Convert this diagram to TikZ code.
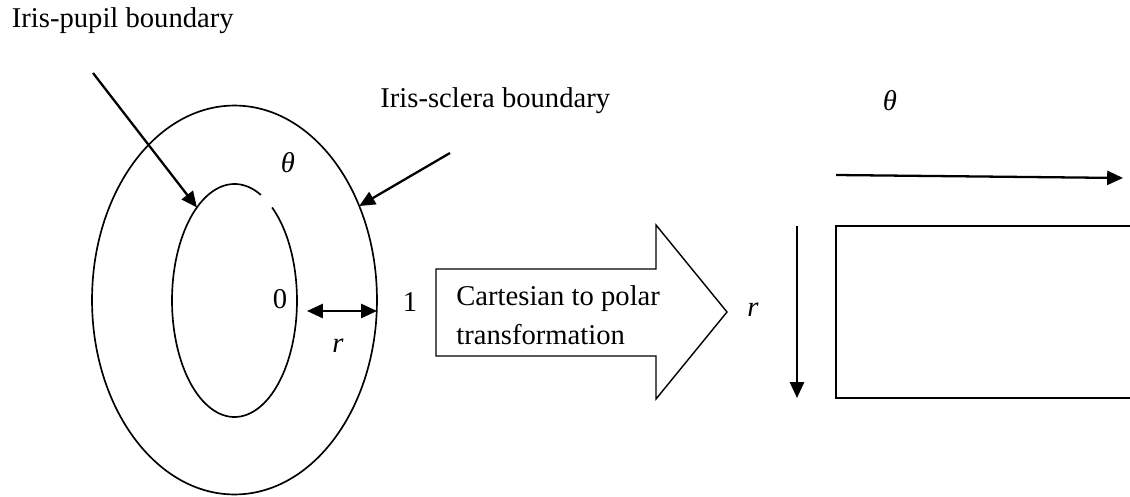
\documentclass[tikz,border=0pt]{standalone}
\usepackage{fontspec}
\setmainfont{Liberation Serif}
\usetikzlibrary{positioning, arrows.meta, shapes.geometric}

\begin{document}
\begin{tikzpicture}[
    x=0.02cm, y=-0.02cm,
    >={Triangle[length=9pt, width=8pt]},
    txt/.style={font=\fontsize{16.3}{22}\selectfont, inner sep=0pt},
    boundary/.style={ellipse, inner sep=0pt, outer sep=0pt},
    pointer/.style={->, line width=1.3pt}
]

\useasboundingbox (0,0) rectangle (1130,497);

% -------------------------
% Iris (left)
% -------------------------
\node[boundary, draw, line width=0.95pt, minimum width=5.7cm, minimum height=7.78cm] (iris) at (234.5,300) {};
\node[boundary, minimum width=2.5cm, minimum height=4.66cm] (pupil) at (234.5,300.5) {};

% inner boundary, open near theta
\draw[line width=0.95pt] ([shift={(pupil.center)}]65:1.25cm and 2.33cm)
    arc[start angle=65, end angle=413, x radius=1.25cm, y radius=2.33cm];

\node[txt, anchor=base west] (pupil-label) at (11.5,28) {Iris-pupil boundary};
\node[txt, anchor=base west] (sclera-label) at (380,107) {Iris-sclera boundary};
\node[txt, anchor=base] (theta-iris) at (288,172) {\textit{θ}};
\node[txt, anchor=base] (zero) at (280,308) {0};
\node[txt, anchor=base] (one) at (410,311) {1};
\node[txt, anchor=base] (r-iris) at (338,352) {\textit{r}};

% pointers to the two boundaries
\coordinate (pupil-tail) at (93,73);
\coordinate (sclera-tail) at (450,153);
\draw[pointer] (pupil-tail) -- (pupil.112);
\draw[pointer] (sclera-tail) -- (iris.37);

% radius
\coordinate (r-start) at (307,311);
\draw[pointer, <->] (r-start) -- (r-start -| iris.east);

% -------------------------
% Block arrow (middle)
% -------------------------
\node[txt, anchor=base west, align=left] (xform) at (456,344) {Cartesian to polar\\transformation};
\draw[line width=0.8pt] (436,269) -- (656,269) -- (656,225) -- (727,312)
    -- (656,399) -- (656,356) -- (436,356) -- cycle;

% -------------------------
% Polar rectangle (right)
% -------------------------
\node[txt, anchor=base] (theta-rect) at (890,110) {\textit{θ}};
\node[txt, anchor=base] (r-rect) at (753,316) {\textit{r}};

\coordinate (rect-nw) at (836,226);
\coordinate (rect-sw) at (836,398);
\draw[line width=1pt] (1140,226) -- (rect-nw) -- (rect-sw) -- (1140,398);

\coordinate (theta-start) at (836,175);
\coordinate (theta-end) at (1123,178);
\draw[pointer] (theta-start) -- (theta-end);

\coordinate (r-top) at (797,226);
\coordinate (r-bottom) at (797,398);
\draw[pointer] (r-top) -- (r-bottom);

\end{tikzpicture}
\end{document}
